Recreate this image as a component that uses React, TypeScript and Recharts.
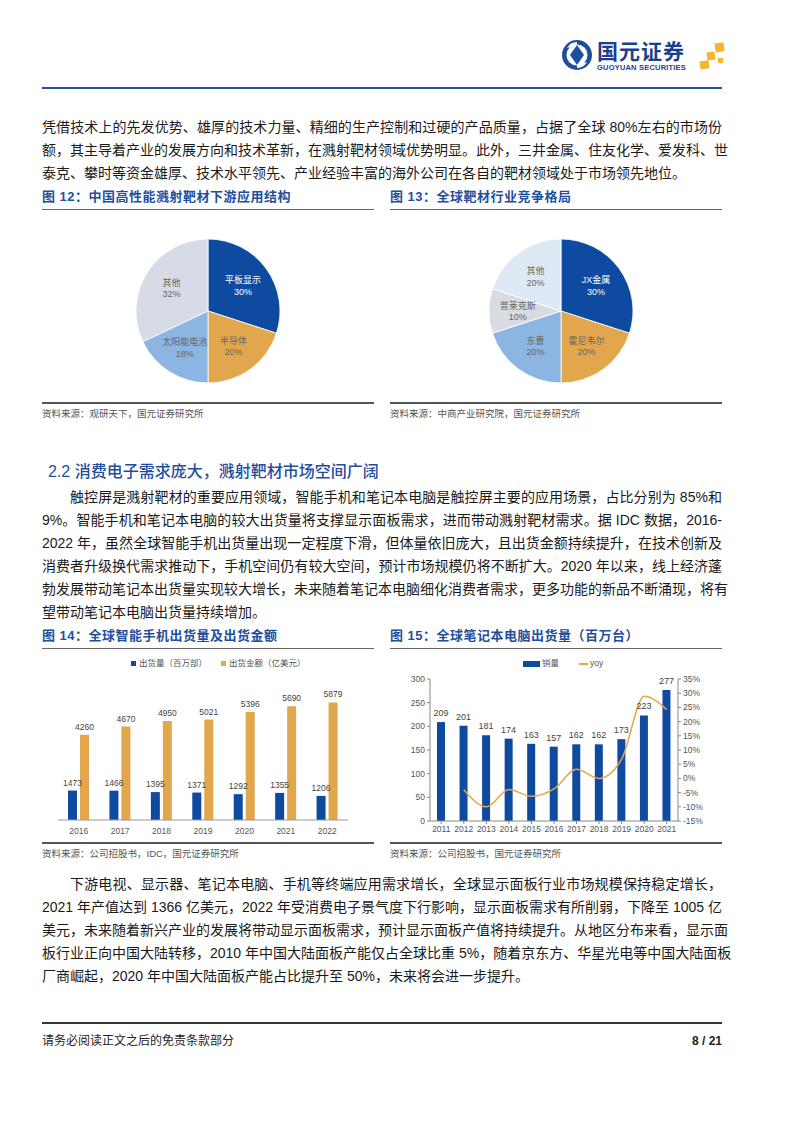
import React from "react";
import {
  PieChart,
  Pie,
  Cell,
  BarChart,
  Bar,
  XAxis,
  YAxis,
  LabelList,
  ComposedChart,
  Line,
} from "recharts";

// 图12 下游应用结构
const appNames = ["平板显示", "半导体", "太阳能电池", "其他"];
const appShares = [30, 20, 18, 32];
const appColors = ["#0d4aa0", "#e2a74c", "#8cb5e2", "#d7dbe5"];

// 图13 竞争格局
const vendorNames = ["JX金属", "霍尼韦尔", "东曹", "普莱克斯", "其他"];
const vendorShares = [30, 20, 20, 10, 20];
const vendorColors = ["#0d4aa0", "#e2a74c", "#8cb5e2", "#d9dbe3", "#dfe9f6"];

// 图14 智能手机
const phoneYears = ["2016", "2017", "2018", "2019", "2020", "2021", "2022"];
const phoneShipments = [1473, 1466, 1395, 1371, 1292, 1355, 1206];
const phoneAmounts = [4260, 4670, 4950, 5021, 5396, 5690, 5879];

// 图15 笔记本电脑
const laptopYears = ["2011", "2012", "2013", "2014", "2015", "2016", "2017", "2018", "2019", "2020", "2021"];
const laptopSales = [209, 201, 181, 174, 163, 157, 162, 162, 173, 223, 277];
const laptopYoy = [null, -4.0, -10.0, -3.9, -6.3, -3.7, 3.2, 0.0, 6.8, 28.9, 24.2];
const leftTicks = [0, 50, 100, 150, 200, 250, 300];
const rightTicks = [-15, -10, -5, 0, 5, 10, 15, 20, 25, 30, 35];

const para1 = [
  "凭借技术上的先发优势、雄厚的技术力量、精细的生产控制和过硬的产品质量，占据了全球 80%左右的市场份",
  "额，其主导着产业的发展方向和技术革新，在溅射靶材领域优势明显。此外，三井金属、住友化学、爱发科、世",
  "泰克、攀时等资金雄厚、技术水平领先、产业经验丰富的海外公司在各自的靶材领域处于市场领先地位。",
];
const para2 = [
  "触控屏是溅射靶材的重要应用领域，智能手机和笔记本电脑是触控屏主要的应用场景，占比分别为 85%和",
  "9%。智能手机和笔记本电脑的较大出货量将支撑显示面板需求，进而带动溅射靶材需求。据 IDC 数据，2016-",
  "2022 年，虽然全球智能手机出货量出现一定程度下滑，但体量依旧庞大，且出货金额持续提升，在技术创新及",
  "消费者升级换代需求推动下，手机空间仍有较大空间，预计市场规模仍将不断扩大。2020 年以来，线上经济蓬",
  "勃发展带动笔记本出货量实现较大增长，未来随着笔记本电脑细化消费者需求，更多功能的新品不断涌现，将有",
  "望带动笔记本电脑出货量持续增加。",
];
const para3 = [
  "下游电视、显示器、笔记本电脑、手机等终端应用需求增长，全球显示面板行业市场规模保持稳定增长，",
  "2021 年产值达到 1366 亿美元，2022 年受消费电子景气度下行影响，显示面板需求有所削弱，下降至 1005 亿",
  "美元，未来随着新兴产业的发展将带动显示面板需求，预计显示面板产值将持续提升。从地区分布来看，显示面",
  "板行业正向中国大陆转移，2010 年中国大陆面板产能仅占全球比重 5%，随着京东方、华星光电等中国大陆面板",
  "厂商崛起，2020 年中国大陆面板产能占比提升至 50%，未来将会进一步提升。",
];

const FONT = "'Liberation Sans', 'Noto Sans CJK SC', sans-serif";
const BLUE = "#0d4aa0";
const GOLD = "#e2a74c";

const appData = appNames.map((n, i) => ({ name: n, value: appShares[i] }));
const vendorData = vendorNames.map((n, i) => ({ name: n, value: vendorShares[i] }));
const phoneData = phoneYears.map((y, i) => ({ year: y, ship: phoneShipments[i], amount: phoneAmounts[i] }));
const laptopData = laptopYears.map((y, i) => ({ year: y, sales: laptopSales[i], yoy: laptopYoy[i] }));

function Paragraph({ top, lines, indentFirst }: { top: number; lines: string[]; indentFirst: boolean }) {
  return (
    <div style={{ position: "absolute", left: 42, top, width: 680, fontSize: 14, lineHeight: "23px", color: "#1a1a1a" }}>
      {lines.map((t, i) => (
        <div
          key={i}
          style={{
            whiteSpace: "nowrap",
            paddingLeft: i === 0 && indentFirst ? 28 : 0,
            textAlign: "justify",
            textAlignLast: i === lines.length - 1 ? "left" : "justify",
          }}
        >
          {t}
        </div>
      ))}
    </div>
  );
}

function Caption({ left, top, text }: { left: number; top: number; text: string }) {
  return (
    <div style={{ position: "absolute", left, top, width: 332 }}>
      <div style={{ fontSize: 13, fontWeight: 700, color: "#1f4f9c", lineHeight: "18px", letterSpacing: 0.5 }}>{text}</div>
      <div style={{ height: 1, background: "#666", marginTop: 3 }} />
    </div>
  );
}

function Source({ left, top, text }: { left: number; top: number; text: string }) {
  return (
    <div style={{ position: "absolute", left, top, width: 332 }}>
      <div style={{ height: 2, background: "#555" }} />
      <div style={{ fontSize: 9.5, color: "#555", marginTop: 4, lineHeight: "12px" }}>{text}</div>
    </div>
  );
}

const pieLabel = (darkIdx: number) => (props: any) => {
  const { cx, cy, midAngle, outerRadius, name, value, index } = props;
  const rad = Math.PI / 180;
  const r = outerRadius * 0.6;
  const x = cx + r * Math.cos(-midAngle * rad);
  const y = cy + r * Math.sin(-midAngle * rad);
  const fill = index === darkIdx ? "#fff" : "#666";
  return (
    <text x={x} y={y} textAnchor="middle" fontSize={9} fill={fill} fontFamily={FONT}>
      <tspan x={x} dy="-0.25em">{name}</tspan>
      <tspan x={x} dy="1.3em">{value}%</tspan>
    </text>
  );
};

function Logo() {
  return (
    <div style={{ position: "absolute", left: 560, top: 36, width: 170, height: 40 }}>
      <svg width={170} height={40} style={{ position: "absolute", left: 0, top: 0 }}>
        <circle cx={17} cy={19} r={15} fill="#1e4f9f" />
        <circle cx={17} cy={19} r={10.5} fill="#fff" />
        <path d="M17 9 L24 19 L17 29 L10 19 Z" fill="#1e4f9f" />
        <path d="M7 12 A12 12 0 0 1 17 6 L17 9 Z" fill="#fff" />
        <path d="M27 26 A12 12 0 0 1 17 32 L17 29 Z" fill="#fff" />
        <rect x={155} y={7} width={9} height={9} fill="#f2b632" transform="rotate(-8 159 11)" />
        <rect x={147} y={16} width={8} height={8} fill="#f2b632" transform="rotate(-8 151 20)" />
        <rect x={140} y={25} width={9} height={8} fill="#f2b632" transform="rotate(-8 144 29)" />
        <rect x={158} y={22} width={5} height={5} fill="#f2b632" />
      </svg>
      <div style={{ position: "absolute", left: 37, top: 2, fontSize: 21, fontWeight: 700, color: "#1c3f8c", letterSpacing: 1, lineHeight: "24px", fontFamily: "'Noto Sans CJK SC', sans-serif" }}>
        国元证券
      </div>
      <div style={{ position: "absolute", left: 37, top: 27, fontSize: 7.5, fontWeight: 700, color: "#1c3f8c", lineHeight: "9px", letterSpacing: 0.2 }}>
        GUOYUAN SECURITIES
      </div>
    </div>
  );
}

export default function App() {
  return (
    <div style={{ position: "absolute", left: 0, top: 0, width: 802, height: 1133, background: "#fff", overflow: "hidden", fontFamily: FONT }}>
      <Logo />
      <div style={{ position: "absolute", left: 42, top: 87, width: 680, height: 2, background: "#2a4f9a" }} />

      <Paragraph top={116} lines={para1} indentFirst={false} />

      <Caption left={42} top={188} text="图 12：中国高性能溅射靶材下游应用结构" />
      <Caption left={390} top={188} text="图 13：全球靶材行业竞争格局" />

      <div style={{ position: "absolute", left: 40, top: 212 }}>
        <PieChart width={330} height={190}>
          <Pie
            data={appData}
            dataKey="value"
            nameKey="name"
            cx={163}
            cy={94}
            outerRadius={72}
            startAngle={90}
            endAngle={-270}
            stroke="#fff"
            strokeWidth={0.8}
            labelLine={false}
            label={pieLabel(0)}
            isAnimationActive={false}
          >
            {appData.map((d, i) => (
              <Cell key={d.name} fill={appColors[i]} />
            ))}
          </Pie>
        </PieChart>
      </div>
      <div style={{ position: "absolute", left: 390, top: 212 }}>
        <PieChart width={330} height={190}>
          <Pie
            data={vendorData}
            dataKey="value"
            nameKey="name"
            cx={166}
            cy={94}
            outerRadius={72}
            startAngle={90}
            endAngle={-270}
            stroke="#fff"
            strokeWidth={0.8}
            labelLine={false}
            label={pieLabel(0)}
            isAnimationActive={false}
          >
            {vendorData.map((d, i) => (
              <Cell key={d.name} fill={vendorColors[i]} />
            ))}
          </Pie>
        </PieChart>
      </div>

      <Source left={42} top={402} text="资料来源：观研天下，国元证券研究所" />
      <Source left={390} top={402} text="资料来源：中商产业研究院，国元证券研究所" />

      <div style={{ position: "absolute", left: 48, top: 461, fontSize: 16, fontWeight: 500, color: "#1f4f9c", lineHeight: "22px" }}>
        2.2 消费电子需求庞大，溅射靶材市场空间广阔
      </div>

      <Paragraph top={486} lines={para2} indentFirst={true} />

      <Caption left={42} top={627} text="图 14：全球智能手机出货量及出货金额" />
      <Caption left={390} top={627} text="图 15：全球笔记本电脑出货量（百万台）" />

      {/* 图14 legend */}
      <div style={{ position: "absolute", left: 131, top: 657, fontSize: 8.5, color: "#555", whiteSpace: "nowrap", lineHeight: "12px" }}>
        <span style={{ display: "inline-block", width: 5, height: 5, background: BLUE, marginRight: 3, verticalAlign: "middle" }} />
        出货量（百万部）
        <span style={{ display: "inline-block", width: 5, height: 5, background: GOLD, marginLeft: 14, marginRight: 3, verticalAlign: "middle" }} />
        出货金额（亿美元）
      </div>
      <div style={{ position: "absolute", left: 40, top: 650 }}>
        <BarChart width={330} height={195} data={phoneData} margin={{ top: 30, right: 22, bottom: 5, left: 18 }} barGap={3} barSize={9}>
          <XAxis dataKey="year" height={20} tickLine={false} axisLine={{ stroke: "#999" }} tick={{ fontSize: 8.5, fill: "#555" }} />
          <YAxis hide domain={[0, 7000]} />
          <Bar dataKey="ship" fill={BLUE} isAnimationActive={false}>
            <LabelList dataKey="ship" position="top" offset={5} fontSize={8.5} fill="#444" />
          </Bar>
          <Bar dataKey="amount" fill={GOLD} isAnimationActive={false}>
            <LabelList dataKey="amount" position="top" offset={5} fontSize={8.5} fill="#444" />
          </Bar>
        </BarChart>
      </div>

      {/* 图15 legend */}
      <div style={{ position: "absolute", left: 523, top: 657, fontSize: 8.5, color: "#555", whiteSpace: "nowrap", lineHeight: "12px" }}>
        <span style={{ display: "inline-block", width: 17, height: 6, background: BLUE, marginRight: 2, verticalAlign: "middle" }} />
        销量
        <span style={{ display: "inline-block", width: 9, height: 1.5, background: GOLD, marginLeft: 20, marginRight: 2, verticalAlign: "middle" }} />
        yoy
      </div>
      <div style={{ position: "absolute", left: 390, top: 650 }}>
        <ComposedChart width={330} height={195} data={laptopData} margin={{ top: 29, right: 7, bottom: 4, left: 10 }}>
          <XAxis dataKey="year" height={20} tickSize={3} tickLine={{ stroke: "#888" }} axisLine={{ stroke: "#888" }} tick={{ fontSize: 8.5, fill: "#555" }} interval={0} />
          <YAxis
            yAxisId="left"
            width={30}
            domain={[0, 300]}
            ticks={leftTicks}
            interval={0}
            tickSize={3}
            tickLine={{ stroke: "#888" }}
            axisLine={{ stroke: "#888" }}
            tick={{ fontSize: 8.5, fill: "#555" }}
          />
          <YAxis
            yAxisId="right"
            orientation="right"
            width={35}
            domain={[-15, 35]}
            ticks={rightTicks}
            interval={0}
            tickSize={3}
            tickLine={{ stroke: "#888" }}
            axisLine={{ stroke: "#888" }}
            tick={{ fontSize: 8.5, fill: "#555" }}
            tickFormatter={(v) => `${v}%`}
          />
          <Bar yAxisId="left" dataKey="sales" fill={BLUE} barSize={8} isAnimationActive={false}>
            <LabelList dataKey="sales" position="top" offset={6} fontSize={9} fill="#444" />
          </Bar>
          <Line yAxisId="right" type="monotone" dataKey="yoy" stroke={GOLD} strokeWidth={1.5} dot={false} isAnimationActive={false} />
        </ComposedChart>
      </div>

      <Source left={42} top={842} text="资料来源：公司招股书，IDC，国元证券研究所" />
      <Source left={390} top={842} text="资料来源：公司招股书，国元证券研究所" />

      <Paragraph top={873} lines={para3} indentFirst={true} />

      <div style={{ position: "absolute", left: 42, top: 1022, width: 680, height: 2, background: "#333" }} />
      <div style={{ position: "absolute", left: 42, top: 1033, fontSize: 12, color: "#222", lineHeight: "16px" }}>
        请务必阅读正文之后的免责条款部分
      </div>
      <div style={{ position: "absolute", left: 622, top: 1033, width: 100, textAlign: "right", fontSize: 12, fontWeight: 700, color: "#222", lineHeight: "16px" }}>
        8 / 21
      </div>
    </div>
  );
}
